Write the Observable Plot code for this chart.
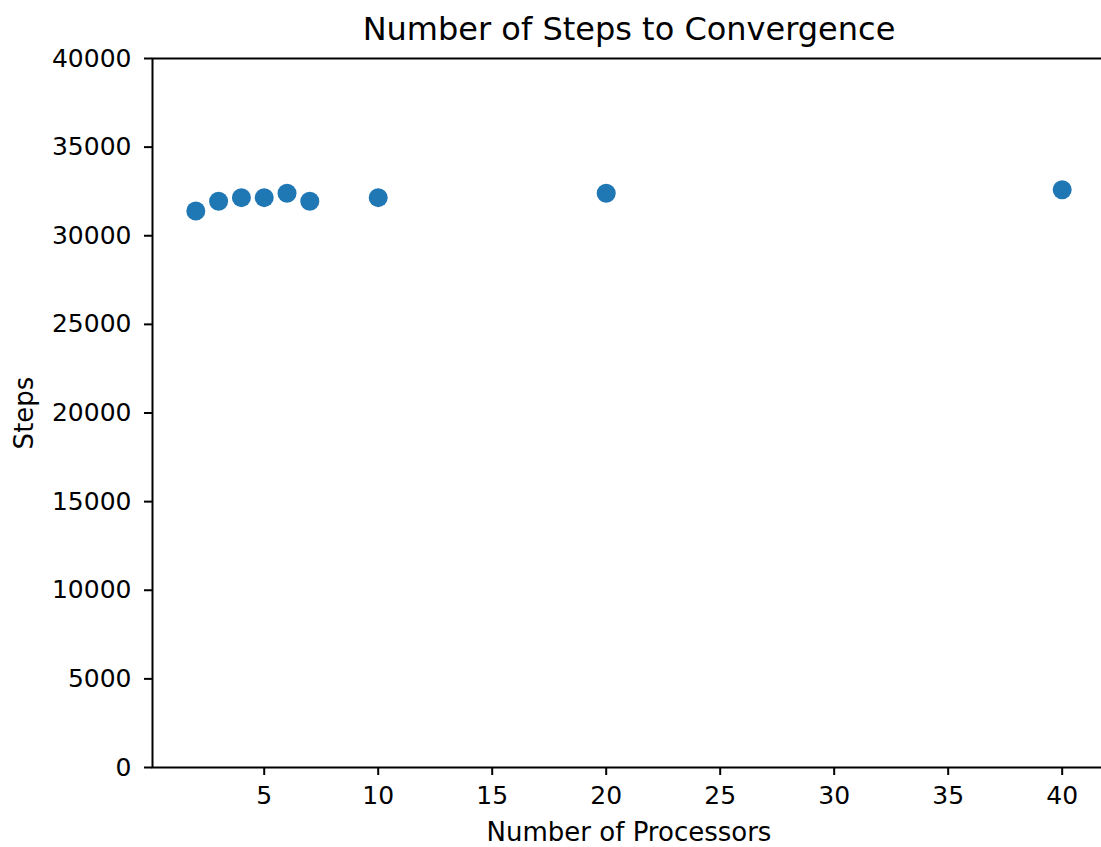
<!DOCTYPE html>
<html><head><meta charset="utf-8">
<script src="https://cdn.jsdelivr.net/npm/d3@7"></script>
<script src="https://cdn.jsdelivr.net/npm/@observablehq/plot@0.6"></script>
<style>html,body{margin:0;padding:0;background:#fff;overflow:hidden}</style>
</head><body><div id="chart"></div>
<script>
const processors = [2, 3, 4, 5, 6, 7, 10, 20, 40];
const steps = [31400, 31950, 32150, 32150, 32400, 31950, 32150, 32400, 32600];
const xTicks = [5, 10, 15, 20, 25, 30, 35, 40];
const yTicks = [0, 5000, 10000, 15000, 20000, 25000, 30000, 35000, 40000];
const title = "Number of Steps to Convergence";
const xLabel = "Number of Processors";
const yLabel = "Steps";

const data = processors.map((p, i) => ({processors: p, steps: steps[i]}));

const chart = Plot.plot({
  width: 1110, height: 847,
  marginLeft: 152, marginRight: 5, marginTop: 58, marginBottom: 80,
  style: {fontFamily: "DejaVu Sans", background: "white", maxWidth: "none", color: "black"},
  x: {domain: [0.1, 41.9]},
  y: {domain: [0, 40000]},
  marks: [
    Plot.frame({stroke: "black", strokeWidth: 2}),
    Plot.axisX({ticks: xTicks, tickSize: 8, tickPadding: 11, fontSize: 25, strokeWidth: 2, label: null, tickFormat: d => String(d)}),
    Plot.axisY({ticks: yTicks, tickSize: 8, tickPadding: 13, fontSize: 25, strokeWidth: 2, label: null, tickFormat: d => String(d)}),
    Plot.dot(data, {x: "processors", y: "steps", r: 9.5, fill: "#1f77b4", stroke: "none"}),
    Plot.text([title], {frameAnchor: "top", dy: -29, fontSize: 32, lineAnchor: "middle", textAnchor: "middle"}),
    Plot.text([xLabel], {frameAnchor: "bottom", dy: 65, fontSize: 26, lineAnchor: "middle", textAnchor: "middle"}),
    Plot.text([yLabel], {frameAnchor: "left", dx: -128, fontSize: 26, rotate: -90, lineAnchor: "middle", textAnchor: "middle"})
  ]
});
document.getElementById("chart").appendChild(chart);
</script>
</body></html>
